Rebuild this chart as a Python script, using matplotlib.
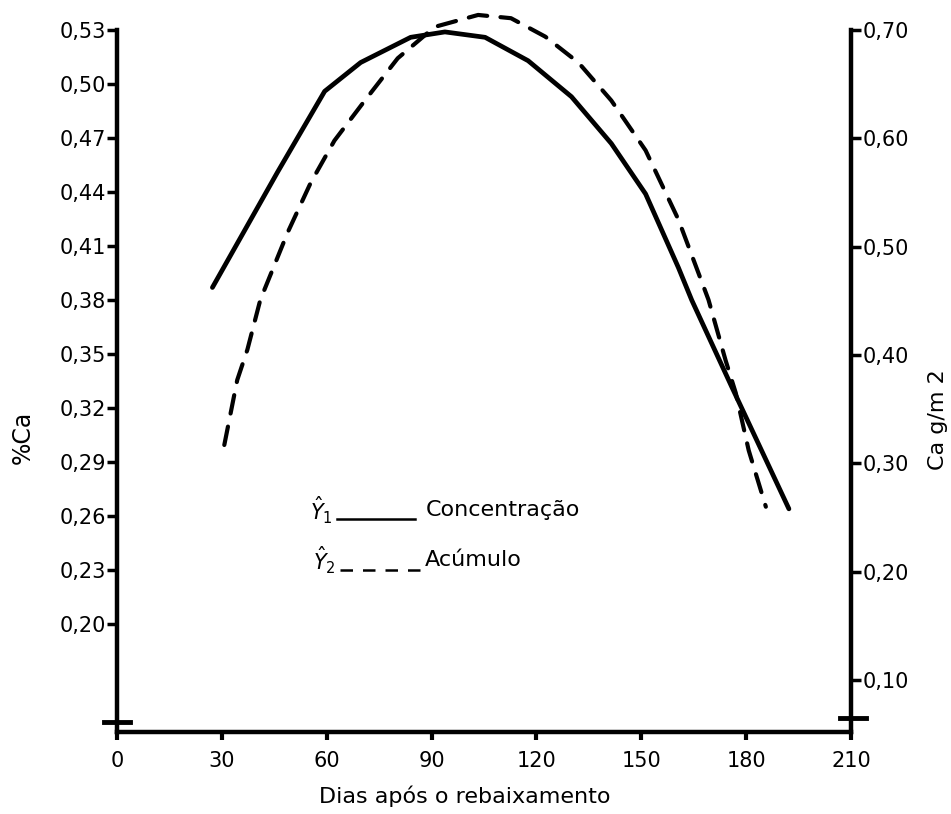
import matplotlib
matplotlib.use('Agg')
import matplotlib.pyplot as plt
from matplotlib.lines import Line2D

# dias apos o rebaixamento / % Ca (eixo esquerdo)
dias_conc = [27.3, 45.9, 59.4, 69.7, 84.0, 93.8, 105.3, 117.6, 130.0, 141.4, 151.2, 160.6, 164.4, 175.8, 192.2]
conc = [0.387, 0.451, 0.496, 0.512, 0.526, 0.529, 0.526, 0.513, 0.493, 0.467, 0.439, 0.398, 0.380, 0.332, 0.264]

# dias / Ca g/m2 (eixo direito)
dias_acum = [30.7, 34.4, 37.3, 41.0, 48.8, 55.4, 62.2, 70.9, 80.3, 90.9, 103.3, 112.7, 122.5, 132.0,
             141.4, 151.2, 160.6, 169.2, 174.1, 177.0, 180.7, 185.6]
acum = [0.317, 0.377, 0.405, 0.451, 0.513, 0.559, 0.598, 0.635, 0.674, 0.703, 0.714, 0.711, 0.694, 0.670,
        0.635, 0.589, 0.525, 0.451, 0.395, 0.365, 0.312, 0.260]

x_ticks = [0, 30, 60, 90, 120, 150, 180, 210]
left_ticks = [0.20, 0.23, 0.26, 0.29, 0.32, 0.35, 0.38, 0.41, 0.44, 0.47, 0.50, 0.53]
right_ticks = [0.10, 0.20, 0.30, 0.40, 0.50, 0.60, 0.70]

plt.rcParams['font.family'] = ['DejaVu Sans']

fig = plt.figure(figsize=(9.51, 8.14), dpi=100)
ax = fig.add_axes([0.123, 0.1007, 0.772, 0.8623])
ax2 = ax.twinx()

ax.plot(dias_conc, conc, color='black', lw=3.4, solid_capstyle='round', clip_on=False)
ax2.plot(dias_acum, acum, color='black', lw=3.0, dashes=(4.5, 3.2), dash_capstyle='round', clip_on=False)

ax.set_xlim(0, 210)
ax.set_ylim(0.14, 0.53)
ax2.set_ylim(0.052, 0.70)

ax.set_xticks(x_ticks)
ax.set_xticklabels([str(t) for t in x_ticks], fontsize=15)
ax.set_yticks(left_ticks)
ax.set_yticklabels([('%.2f' % t).replace('.', ',') for t in left_ticks], fontsize=15)
ax2.set_yticks(right_ticks)
ax2.set_yticklabels([('%.2f' % t).replace('.', ',') for t in right_ticks], fontsize=15)

for a in (ax, ax2):
    a.spines['top'].set_visible(False)
    for s in ('left', 'right', 'bottom'):
        a.spines[s].set_linewidth(3.2)
ax.spines['right'].set_visible(False)
ax2.spines['left'].set_visible(False)
ax2.spines['bottom'].set_visible(False)

ax.tick_params(axis='y', direction='out', length=7, width=2.5, pad=1)
ax.tick_params(axis='x', direction='out', length=6, width=3, pad=8)
ax2.tick_params(axis='y', direction='out', length=7, width=2.5, pad=1)

ax.set_xlabel('Dias após o rebaixamento', fontsize=16)
ax.xaxis.set_label_coords(0.474, -0.076)
ax.set_ylabel('%Ca', fontsize=17)
ax.yaxis.set_label_coords(-0.112, 0.42)
ax2.set_ylabel('Ca g/m 2', fontsize=16, rotation=90)
ax2.yaxis.set_label_coords(1.105, 0.445)

# marcas de quebra dos eixos
ax.plot([-0.017, 0.018], [0.014, 0.014], transform=ax.transAxes, color='black', lw=3.5, clip_on=False)
ax.plot([0.985, 1.02], [0.02, 0.02], transform=ax.transAxes, color='black', lw=3.5, clip_on=False)

# legenda escrita a mao
ax.text(0.263, 0.316, r'$\hat{Y}_1$', transform=ax.transAxes, fontsize=15, va='center')
ax.add_line(Line2D([0.30, 0.406], [0.303, 0.303], transform=ax.transAxes, color='black', lw=1.8))
ax.text(0.42, 0.316, 'Concentração', transform=ax.transAxes, fontsize=16, va='center')
ax.text(0.267, 0.245, r'$\hat{Y}_2$', transform=ax.transAxes, fontsize=15, va='center')
ax.add_line(Line2D([0.304, 0.413], [0.231, 0.231], transform=ax.transAxes, color='black', lw=1.8,
                   dashes=(5, 4)))
ax.text(0.42, 0.245, 'Acúmulo', transform=ax.transAxes, fontsize=16, va='center')

fig.savefig('out.png', dpi=100)
